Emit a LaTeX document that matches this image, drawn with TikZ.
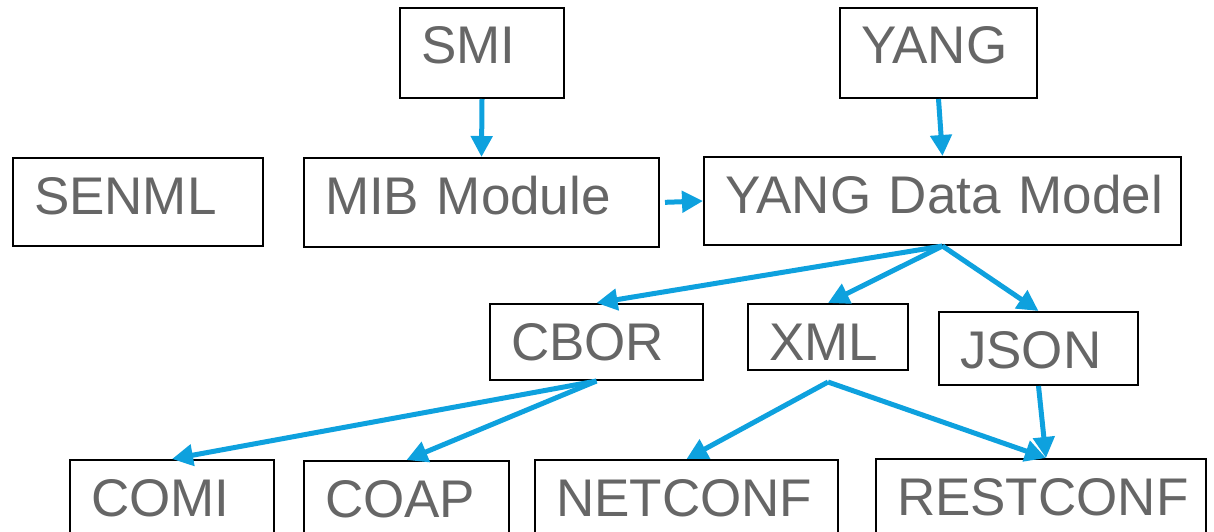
\documentclass[tikz,border=0pt]{standalone}
\usepackage{fontspec}
\setmainfont{Liberation Sans}
\usetikzlibrary{arrows.meta,positioning}
\definecolor{arrowblue}{RGB}{14,161,222}
\definecolor{labelgray}{RGB}{102,102,102}
\hyphenpenalty=10000

\begin{document}
\begin{tikzpicture}[x=1pt,y=-1pt,
  blk/.style={draw, line width=2pt, anchor=north west, inner xsep=21pt, inner ysep=0pt,
    text height=56pt, align=left, text=labelgray,
    font=\fontsize{53}{63}\selectfont},
  flow/.style={draw=arrowblue, line width=5pt, -{Triangle[length=21pt,width=21pt]}}]
\useasboundingbox (0,0) rectangle (1214,532);

% top row
\node[blk, text width=122pt, text depth=34pt] (smi) at (399,7) {SMI};
\node[blk, text width=155pt, text depth=34pt] (yang) at (839,7) {YANG};

% models
\node[blk, text width=208pt, text depth=32pt] (senml) at (12,157) {SENML};
\node[blk, text width=313pt, text depth=33pt] (mib) at (303,157) {MIB~Module};
\node[blk, text width=435pt, text depth=32pt] (ydm) at (703,156) {YANG~Data~Model};

% encodings
\node[blk, text width=171pt, text depth=20pt] (cbor) at (489,303) {CBOR};
\node[blk, text width=118pt, text depth=10pt] (xml) at (747,303) {XML};
\node[blk, text width=157pt, text depth=17pt] (json) at (938,311) {JSON};
\coordinate (xmlout) at ([yshift=-11pt]xml.south);

% protocols
\node[blk, text width=162pt, text depth=34pt] (comi) at (69,459) {COMI};
\node[blk, text width=163pt, text depth=34pt] (coap) at (303,460) {COAP};
\node[blk, text width=261pt, text depth=34pt] (netconf) at (534,459) {NETCONF};
\node[blk, text width=288pt, text depth=34pt] (restconf) at (875,458) {RESTCONF};
\coordinate (restin) at ([xshift=5pt]restconf.north);

\draw[flow] (smi.south) -- (mib.north);
\draw[flow] (yang.south) -- (ydm.north);
\draw[flow, shorten <=5pt] (mib.east) -- (ydm.west);
\draw[flow] (ydm.south) -- (cbor.north);
\draw[flow] (ydm.south) -- (xml.north);
\draw[flow] (ydm.south) -- (json.north);
\draw[flow] (cbor.south) -- (comi.north);
\draw[flow] (cbor.south) -- (coap.north);
\draw[flow] (xmlout) -- (netconf.north);
\draw[flow] (xmlout) -- (restin);
\draw[flow] (json.south) -- (restin);
\end{tikzpicture}
\end{document}
